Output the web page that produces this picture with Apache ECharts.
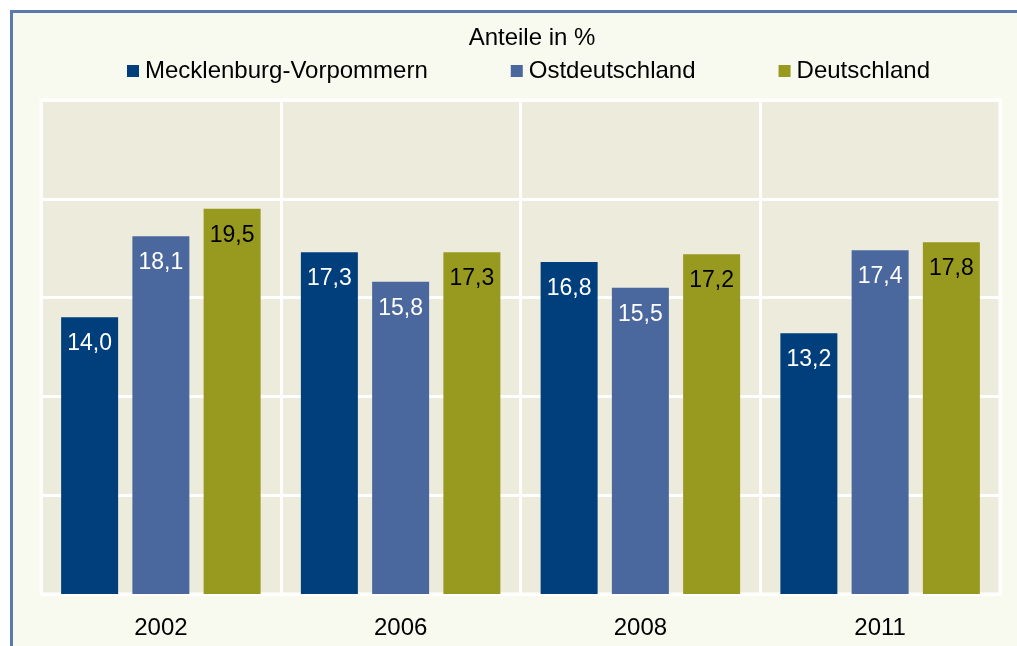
<!DOCTYPE html>
<html>
<head>
<meta charset="utf-8">
<script src="https://cdn.jsdelivr.net/npm/echarts@6/dist/echarts.min.js"></script>
<style>
  html, body { margin: 0; padding: 0; background: #fff; overflow: hidden; }
  #frame {
    position: absolute; left: 10px; top: 10px; width: 1040px; height: 680px;
    border: 3px solid #5b79aa; background: #f8f9ef; box-sizing: border-box;
  }
  #chart { position: absolute; left: 0; top: 0; width: 1017px; height: 646px; }
</style>
</head>
<body>
<div id="frame"></div>
<div id="chart"></div>
<script>
const categories = ['2002', '2006', '2008', '2011']
const seriesNames = ['Mecklenburg-Vorpommern', 'Ostdeutschland', 'Deutschland']
const mvValues = [14.0, 17.3, 16.8, 13.2]
const ostValues = [18.1, 15.8, 15.5, 17.4]
const deValues = [19.5, 17.3, 17.2, 17.8]

const colors = ['#013f7c', '#4a689e', '#989a1f']
const labelColors = ['#fff', '#fff', '#000']
const font = 'Liberation Sans, Arial, sans-serif'

const chart = echarts.init(document.getElementById('chart'))

function makeSeries(name, data, i) {
  return {
    name: name,
    type: 'bar',
    data: data,
    barWidth: 57,
    barGap: '25%',
    itemStyle: { color: colors[i] },
    label: {
      show: true,
      position: 'insideTop',
      distance: 15,
      color: labelColors[i],
      fontFamily: font,
      fontSize: 23,
      formatter: p => p.value.toFixed(1).replace('.', ',')
    },
    animation: false
  }
}

chart.setOption({
  title: {
    text: 'Anteile in %',
    left: 527,
    top: 21,
    textAlign: 'center',
    textStyle: { fontFamily: font, fontSize: 24, fontWeight: 'normal', color: '#000' }
  },
  legend: {
    data: seriesNames,
    left: 122,
    top: 54,
    itemWidth: 12,
    itemHeight: 12,
    itemGap: 83,
    icon: 'rect',
    textStyle: { fontFamily: font, fontSize: 24, color: '#000', padding: [0, 0, 0, 1] }
  },
  grid: {
    left: 41,
    right: 17,
    top: 100,
    bottom: 52,
    show: true,
    backgroundColor: '#edebdc',
    borderColor: '#fff',
    borderWidth: 3
  },
  xAxis: {
    type: 'category',
    data: categories,
    axisLine: { show: false },
    axisTick: { show: false },
    splitLine: { show: true, lineStyle: { color: '#fff', width: 3 } },
    axisLabel: { margin: 22, fontFamily: font, fontSize: 24, color: '#000' }
  },
  yAxis: {
    type: 'value',
    min: 0,
    max: 25,
    interval: 5,
    axisLine: { show: false },
    axisTick: { show: false },
    axisLabel: { show: false },
    splitLine: { show: true, lineStyle: { color: '#fff', width: 3 } }
  },
  series: [
    makeSeries(seriesNames[0], mvValues, 0),
    makeSeries(seriesNames[1], ostValues, 1),
    makeSeries(seriesNames[2], deValues, 2)
  ]
})
</script>
</body>
</html>
